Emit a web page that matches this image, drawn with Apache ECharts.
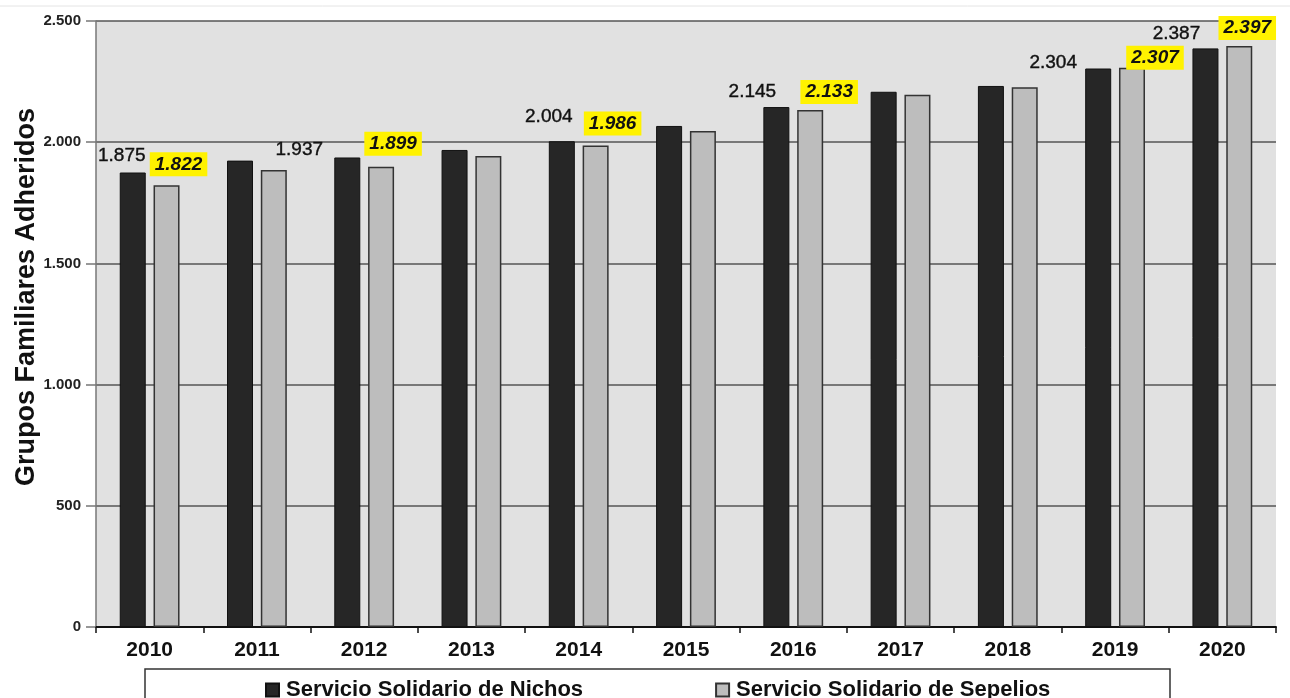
<!DOCTYPE html>
<html>
<head>
<meta charset="utf-8">
<script src="https://cdn.jsdelivr.net/npm/echarts@6/dist/echarts.min.js"></script>
<style>
html,body{margin:0;padding:0;background:#fff;}
#chart{width:1290px;height:698px;}
</style>
</head>
<body>
<div id="chart"></div>
<script>
// ---- data ----
const years = ['2010','2011','2012','2013','2014','2015','2016','2017','2018','2019','2020'];
const nichos = [1875, 1924, 1937, 1968, 2004, 2067, 2145, 2208, 2232, 2304, 2387];
const sepelios = [1822, 1885, 1899, 1943, 1986, 2046, 2133, 2196, 2227, 2307, 2397];
const seriesNames = ['Servicio Solidario de Nichos', 'Servicio Solidario de Sepelios'];
const labelledYears = ['2010','2012','2014','2016','2019','2020'];
const yAxisTitle = 'Grupos Familiares Adheridos';

// ---- label placement (style only) ----
const nichosLabelOffset = {'2010':[-11,-17],'2012':[-48,-8],'2014':[-13,-24],'2016':[-24,-15],'2019':[-45,-6],'2020':[-29,-15]};
const sepeliosLabelOffset = {'2010':[12,-21],'2012':[12,-23],'2014':[17,-22],'2016':[19,-18],'2019':[23,-10],'2020':[8,-18]};

function fmt(v){ return String(v).replace(/\B(?=(\d{3})+(?!\d))/g, '.'); }
const FONT = '"Liberation Sans", Arial, sans-serif';

function buildData(values, offsets){
  return values.map((v,i)=>{
    const y = years[i];
    if (labelledYears.indexOf(y) >= 0) {
      return {value: v, label: {show: true, offset: offsets[y]}};
    }
    return {value: v, label: {show: false}};
  });
}

const chart = echarts.init(document.getElementById('chart'), null, {renderer:'canvas'});
chart.setOption({
  animation: false,
  backgroundColor: '#ffffff',
  textStyle: {fontFamily: FONT},
  grid: {left: 96, right: 14, top: 21, bottom: 71, show: true, backgroundColor: '#e1e1e1', borderWidth: 0},
  legend: {
    data: seriesNames,
    left: 260, top: 674,
    itemWidth: 13, itemHeight: 13, itemGap: 132,
    icon: 'rect',
    textStyle: {fontFamily: FONT, fontSize: 22, fontWeight: 'bold', color: '#111', padding: [0,0,0,2]}
  },
  xAxis: {
    type: 'category',
    data: years,
    axisLine: {lineStyle: {color: '#111', width: 2}},
    axisTick: {show: true, length: 6, lineStyle: {color: '#111', width: 1.5}},
    axisLabel: {fontFamily: FONT, fontSize: 21, fontWeight: 'bold', color: '#111', margin: 13}
  },
  yAxis: {
    type: 'value', min: 0, max: 2500, interval: 500,
    axisLine: {show: true, lineStyle: {color: '#777', width: 1.5}},
    axisTick: {show: true, length: 10, lineStyle: {color: '#777', width: 1.5}},
    axisLabel: {fontFamily: FONT, fontSize: 15, fontWeight: 'bold', color: '#222', margin: 15, formatter: fmt},
    splitLine: {show: true, lineStyle: {color: '#555', width: 1.5}}
  },
  series: [
    {
      name: seriesNames[0], type: 'bar', barWidth: 26, barGap: '30%',
      itemStyle: {color: '#262626', borderColor: '#111', borderWidth: 1},
      label: {
        position: ['50%', 0], align: 'center', verticalAlign: 'middle',
        fontFamily: FONT, fontSize: 19, color: '#111',
        textBorderColor: '#111', textBorderWidth: 0.4,
        formatter: p => fmt(p.value)
      },
      data: buildData(nichos, nichosLabelOffset)
    },
    {
      name: seriesNames[1], type: 'bar', barWidth: 26,
      itemStyle: {color: '#bdbdbd', borderColor: '#333', borderWidth: 1.5},
      label: {
        position: ['50%', 0], align: 'center', verticalAlign: 'middle',
        fontFamily: FONT, fontSize: 19, fontWeight: 'bold', fontStyle: 'italic', color: '#111',
        backgroundColor: '#fff200', padding: [3, 5, 2, 5],
        formatter: p => fmt(p.value)
      },
      data: buildData(sepelios, sepeliosLabelOffset)
    }
  ],
  graphic: [
    {type: 'rect', z: -1, shape: {x: 145, y: 669, width: 1025, height: 40}, style: {fill: '#fff', stroke: '#333', lineWidth: 1.5}},
    {type: 'line', shape: {x1: 0, y1: 6, x2: 1290, y2: 6}, style: {stroke: '#e4e4e4', lineWidth: 1}},
    {type: 'text', x: 27, y: 297, rotation: Math.PI/2,
     style: {text: yAxisTitle, fontFamily: FONT, fontSize: 27, fontWeight: 'bold', fill: '#111', textAlign: 'center', textVerticalAlign: 'middle'}}
  ]
});
</script>
</body>
</html>
